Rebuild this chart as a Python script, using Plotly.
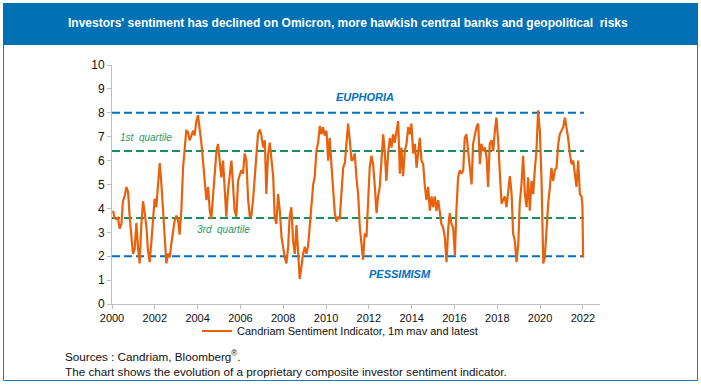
import plotly.graph_objects as go

# ---- data (decimal years, indicator values) ----
years_2000_2005 = [2000.05, 2000.12, 2000.20, 2000.28, 2000.36, 2000.44, 2000.51, 2000.59, 2000.67, 2000.75,
                   2000.83, 2000.90, 2000.98, 2001.06, 2001.14, 2001.22, 2001.29, 2001.37, 2001.45, 2001.53,
                   2001.61, 2001.68, 2001.76, 2001.84, 2001.92, 2001.99, 2002.07, 2002.15, 2002.23, 2002.31,
                   2002.38, 2002.46, 2002.54, 2002.62, 2002.70, 2002.77, 2002.85, 2002.93, 2003.01, 2003.09,
                   2003.16, 2003.24, 2003.32, 2003.40, 2003.47, 2003.55, 2003.63, 2003.71, 2003.79, 2003.86,
                   2003.94, 2004.02, 2004.10, 2004.18, 2004.25, 2004.33, 2004.41, 2004.49, 2004.57, 2004.64,
                   2004.72, 2004.80, 2004.88, 2004.95, 2005.03, 2005.11, 2005.19, 2005.27, 2005.34, 2005.42,
                   2005.50, 2005.58]
values_2000_2005 = [3.9, 3.6, 3.55, 3.6, 3.15, 3.35, 4.3, 4.5, 4.9, 4.7,
                    3.6, 2.9, 2.1, 2.3, 3.4, 2.3, 1.7, 3.3, 4.3, 3.8,
                    3.2, 2.25, 1.75, 2.6, 3.4, 4.4, 4.05, 5.0, 5.9, 5.0,
                    4.05, 2.95, 1.7, 2.1, 1.95, 2.5, 2.95, 3.5, 3.7, 3.5,
                    2.9, 3.9, 5.7, 6.4, 7.25, 7.2, 6.85, 7.05, 7.25, 7.05,
                    7.65, 7.9, 7.4, 6.7, 6.0, 5.15, 4.35, 4.9, 3.9, 3.55,
                    4.45, 5.15, 6.4, 6.7, 5.85, 5.3, 6.0, 4.75, 3.65, 4.75,
                    5.45, 6.0]

years_2005_2011 = [2005.66, 2005.73, 2005.81, 2005.89, 2005.97, 2006.05, 2006.12, 2006.20, 2006.28, 2006.36,
                   2006.44, 2006.51, 2006.59, 2006.67, 2006.75, 2006.82, 2006.90, 2006.98, 2007.06, 2007.14,
                   2007.21, 2007.29, 2007.37, 2007.45, 2007.53, 2007.60, 2007.68, 2007.76, 2007.84, 2007.92,
                   2007.99, 2008.07, 2008.15, 2008.23, 2008.30, 2008.38, 2008.46, 2008.54, 2008.62, 2008.69,
                   2008.77, 2008.85, 2008.93, 2009.01, 2009.08, 2009.16, 2009.24, 2009.32, 2009.40, 2009.47,
                   2009.55, 2009.63, 2009.71, 2009.78, 2009.86, 2009.94, 2010.02, 2010.10, 2010.17, 2010.25,
                   2010.33, 2010.41, 2010.49, 2010.56, 2010.64, 2010.72, 2010.80, 2010.88, 2010.95, 2011.03,
                   2011.11, 2011.19]
values_2005_2011 = [4.9, 3.9, 3.65, 5.15, 5.4, 5.6, 5.45, 6.3, 6.0, 4.35,
                    3.65, 3.7, 4.35, 5.45, 6.4, 7.1, 7.3, 7.05, 6.55, 6.85,
                    4.6, 6.25, 6.75, 6.05, 5.35, 3.65, 3.35, 4.6, 3.9, 2.8,
                    2.4, 1.95, 1.7, 2.4, 3.65, 4.05, 2.65, 2.1, 3.3, 1.95,
                    1.05, 1.55, 2.1, 2.4, 2.1, 2.4, 3.2, 4.35, 5.0, 5.3,
                    6.4, 6.75, 7.45, 7.1, 7.4, 7.05, 7.25, 6.0, 6.95, 5.85,
                    4.9, 3.8, 3.45, 3.65, 3.55, 4.6, 5.7, 5.9, 6.85, 7.55,
                    6.85, 6.0]

years_2011_2016 = [2011.26, 2011.34, 2011.42, 2011.50, 2011.58, 2011.65, 2011.73, 2011.81, 2011.89, 2011.97,
                   2012.04, 2012.12, 2012.20, 2012.28, 2012.36, 2012.43, 2012.51, 2012.59, 2012.67, 2012.74,
                   2012.82, 2012.90, 2012.98, 2013.06, 2013.13, 2013.21, 2013.29, 2013.37, 2013.45, 2013.52,
                   2013.60, 2013.68, 2013.76, 2013.84, 2013.91, 2013.99, 2014.07, 2014.15, 2014.23, 2014.30,
                   2014.38, 2014.46, 2014.54, 2014.61, 2014.69, 2014.77, 2014.85, 2014.93, 2015.00, 2015.08,
                   2015.16, 2015.24, 2015.32, 2015.39, 2015.47, 2015.55, 2015.63, 2015.71, 2015.78, 2015.86,
                   2015.94, 2016.02, 2016.09, 2016.17, 2016.25, 2016.33, 2016.41, 2016.48, 2016.56, 2016.64,
                   2016.72, 2016.80]
values_2011_2016 = [6.05, 6.3, 5.3, 4.6, 3.2, 2.4, 1.85, 2.95, 2.8, 4.35,
                    5.7, 6.2, 5.85, 4.9, 3.8, 4.5, 4.9, 6.0, 7.1, 6.4,
                    5.15, 6.3, 6.95, 6.55, 7.1, 6.75, 7.25, 7.65, 5.45, 6.55,
                    5.35, 6.4, 6.7, 7.4, 7.1, 7.55, 6.3, 6.7, 5.7, 6.3,
                    6.95, 6.0, 5.85, 5.0, 4.35, 4.9, 3.9, 4.5, 4.05, 4.5,
                    3.9, 4.35, 3.8, 3.35, 3.2, 2.8, 1.75, 3.2, 3.8, 3.35,
                    3.2, 2.05, 3.9, 5.3, 5.6, 5.45, 5.6, 6.95, 7.1, 6.4,
                    5.6, 5.0]

years_2016_2022 = [2016.87, 2016.95, 2017.03, 2017.11, 2017.19, 2017.26, 2017.34, 2017.42, 2017.50, 2017.57,
                   2017.65, 2017.73, 2017.81, 2017.89, 2017.96, 2018.04, 2018.12, 2018.20, 2018.28, 2018.35,
                   2018.43, 2018.51, 2018.59, 2018.67, 2018.74, 2018.82, 2018.90, 2018.98, 2019.05, 2019.13,
                   2019.21, 2019.29, 2019.37, 2019.44, 2019.52, 2019.60, 2019.68, 2019.76, 2019.83, 2019.91,
                   2019.99, 2020.07, 2020.15, 2020.22, 2020.30, 2020.38, 2020.46, 2020.53, 2020.61, 2020.69,
                   2020.77, 2020.85, 2020.92, 2021.00, 2021.08, 2021.16, 2021.24, 2021.31, 2021.39, 2021.47,
                   2021.55, 2021.63, 2021.70, 2021.78, 2021.86, 2021.94, 2021.98, 2022.01]
values_2016_2022 = [6.7, 7.1, 7.4, 7.55, 5.85, 6.7, 6.4, 6.55, 6.15, 4.9,
                    6.7, 6.85, 6.4, 7.25, 7.8, 6.85, 5.3, 4.2, 4.35, 4.5,
                    4.05, 4.75, 5.35, 4.6, 2.95, 2.65, 1.75, 2.5, 4.2, 5.0,
                    6.2, 4.6, 4.05, 5.3, 3.9, 5.15, 4.6, 5.7, 6.4, 8.1,
                    7.25, 5.15, 1.7, 1.95, 3.2, 4.2, 4.9, 5.7, 5.15, 5.6,
                    5.7, 6.7, 7.1, 7.25, 7.4, 7.8, 7.4, 6.95, 6.3, 5.85,
                    6.0, 5.45, 4.9, 6.0, 4.6, 4.5, 4.1, 1.95]

# thresholds
euphoria_level = 8.0
first_quartile = 6.4
third_quartile = 3.6
pessimism_level = 2.0
line_start, line_end = 2000.0, 2022.05

x_ticks = [2000, 2002, 2004, 2006, 2008, 2010, 2012, 2014, 2016, 2018, 2020, 2022]
y_ticks = [0, 1, 2, 3, 4, 5, 6, 7, 8, 9, 10]

title_text = "Investors' sentiment has declined on Omicron, more hawkish central banks and geopolitical  risks"
series_name = "Candriam Sentiment Indicator, 1m mav and latest"
source_text = "Sources : Candriam, Bloomberg<sup>®</sup>."
note_text = "The chart shows the evolution of a proprietary composite investor sentiment indicator."

years = years_2000_2005 + years_2005_2011 + years_2011_2016 + years_2016_2022
values = values_2000_2005 + values_2005_2011 + values_2011_2016 + values_2016_2022

BLUE = "#0070C0"
GREEN = "#16905E"
ORANGE = "#E8620E"
REG = "Liberation Sans, Arial, sans-serif"

fig = go.Figure()

# level lines (drawn under the series)
for lvl, col in [(euphoria_level, BLUE), (first_quartile, GREEN), (third_quartile, GREEN), (pessimism_level, BLUE)]:
    fig.add_trace(go.Scatter(x=[line_start, line_end], y=[lvl, lvl], mode="lines",
                             line=dict(color=col, width=2, dash="8px,4px"),
                             showlegend=False, hoverinfo="skip"))

fig.add_trace(go.Scatter(x=years, y=values, mode="lines", name=series_name,
                         line=dict(color=ORANGE, width=2.2)))

# Layout geometry
L, R, T, B = 112, 101, 65, 81
W, H = 701, 385
pw, ph = W - L - R, H - T - B


def px_to_paper_x(px):
    return (px - L) / pw


def px_to_paper_y(py):
    return (H - B - py) / ph


shapes = [
    dict(type="rect", xref="paper", yref="paper",
         x0=px_to_paper_x(3.5), x1=px_to_paper_x(697.5), y0=px_to_paper_y(380.5), y1=px_to_paper_y(3.5),
         line=dict(color="#1F77B4", width=1), fillcolor="rgba(0,0,0,0)", layer="below"),
    dict(type="rect", xref="paper", yref="paper",
         x0=px_to_paper_x(3), x1=px_to_paper_x(698), y0=px_to_paper_y(45), y1=px_to_paper_y(3),
         line=dict(width=0), fillcolor="#0071B5", layer="below"),
]

annotations = [
    dict(text=f"<b>{title_text}</b>", xref="paper", yref="paper",
         x=px_to_paper_x(348), y=px_to_paper_y(23), xanchor="center", yanchor="middle",
         showarrow=False, font=dict(family=REG, size=12, color="white")),
    dict(text="<b><i>EUPHORIA</i></b>", x=2011.82, y=8.67, xref="x", yref="y", showarrow=False,
         font=dict(family=REG, size=11, color=BLUE), xanchor="center", yanchor="middle"),
    dict(text="<b><i>PESSIMISM</i></b>", x=2013.46, y=1.25, xref="x", yref="y", showarrow=False,
         font=dict(family=REG, size=11, color=BLUE), xanchor="center", yanchor="middle"),
    dict(text="<i>1st  quartile</i>", x=2000.3, y=6.96, xref="x", yref="y", showarrow=False,
         font=dict(family=REG, size=10, color="#22996A"), xanchor="left", yanchor="middle"),
    dict(text="<i>3rd  quartile</i>", x=2003.88, y=3.12, xref="x", yref="y", showarrow=False,
         font=dict(family=REG, size=10, color="#22996A"), xanchor="left", yanchor="middle"),
    dict(text=source_text, xref="paper", yref="paper", x=px_to_paper_x(63), y=px_to_paper_y(356),
         xanchor="left", yanchor="middle", showarrow=False, font=dict(family=REG, size=11.7, color="#111")),
    dict(text=note_text, xref="paper", yref="paper", x=px_to_paper_x(63), y=px_to_paper_y(371),
         xanchor="left", yanchor="middle", showarrow=False, font=dict(family=REG, size=11.7, color="#111")),
]

fig.update_layout(
    width=W, height=H,
    margin=dict(l=L, r=R, t=T, b=B, pad=0),
    paper_bgcolor="white", plot_bgcolor="white",
    shapes=shapes, annotations=annotations,
    showlegend=True,
    legend=dict(orientation="h", x=px_to_paper_x(340), y=px_to_paper_y(331),
                xanchor="center", yanchor="middle",
                font=dict(family=REG, size=11, color="#111"),
                bgcolor="rgba(0,0,0,0)", itemwidth=30),
    xaxis=dict(range=[2000, 2022.8], tickvals=x_ticks, ticktext=[str(v) for v in x_ticks],
               showgrid=False, zeroline=False, showline=True, linecolor="#BFBFBF", linewidth=1,
               ticks="outside", ticklen=4, tickcolor="#BFBFBF",
               tickfont=dict(family=REG, size=11, color="#111")),
    yaxis=dict(range=[0, 10], tickvals=y_ticks, showgrid=False, zeroline=False,
               showline=True, linecolor="#BFBFBF", linewidth=1,
               ticks="outside", ticklen=4, tickcolor="#BFBFBF",
               tickfont=dict(family=REG, size=12, color="#111")),
)

fig.write_html("out.html", config={"displayModeBar": False},
               post_script="document.body.style.margin='0';document.body.style.overflow='hidden';")
